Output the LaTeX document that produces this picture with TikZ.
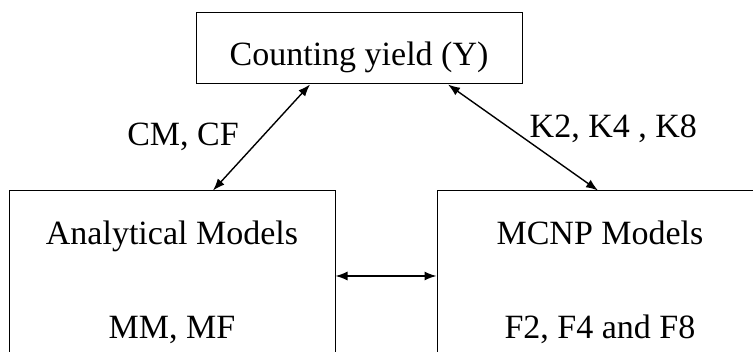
\documentclass[tikz,border=0pt]{standalone}
\usepackage{fontspec}
\setmainfont{Liberation Serif}
\usetikzlibrary{arrows.meta}

\begin{document}
\begin{tikzpicture}[x=1pt,y=1pt,>={Latex[length=12pt,width=9pt]},
  every node/.style={font=\fontsize{34}{94}\selectfont,inner sep=0pt},
  box/.style={draw,line width=1pt,align=center,minimum width=326pt},
  link/.style={<->,line width=1.4pt}]
\clip (0,0) rectangle (753,352);
\node[box,minimum height=71pt,text height=42pt,text depth=7pt](Y) at (359,303.5) {Counting yield (Y)};
\node[box,minimum height=182pt](anl) at (172,70) {Analytical Models\\MM, MF};
\node[box,minimum height=182pt](mcnp) at (600,70) {MCNP Models\\F2, F4 and F8};

\draw[link] ([xshift=-49pt]Y.south) -- node[left=22pt,yshift=1pt]{CM, CF} ([xshift=41pt]anl.north);
\draw[link] ([xshift=89pt]Y.south) -- node[right=6pt,yshift=9pt]{K2, K4 , K8} ([xshift=-2pt]mcnp.north);
\draw[link] ([yshift=6pt]anl.east) -- ([yshift=6pt]mcnp.west);
\end{tikzpicture}
\end{document}
